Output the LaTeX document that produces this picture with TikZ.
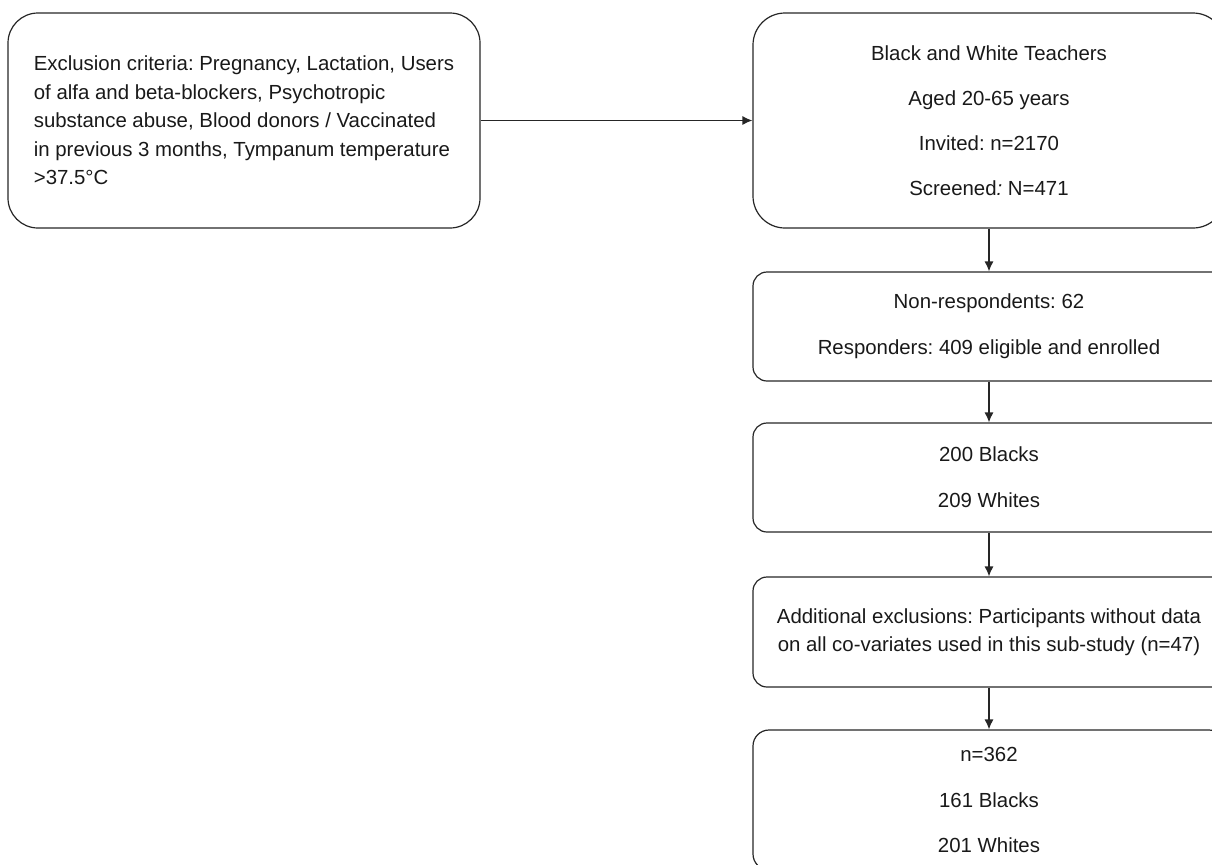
\documentclass[tikz,border=0pt]{standalone}
\usepackage{fontspec}
\setmainfont{Liberation Sans}
\usetikzlibrary{arrows.meta}
\frenchspacing

\tikzset{
	box/.style={draw=black!85,line width=0.6pt,minimum width=236pt,inner sep=0pt,text=black!90},
	flow/.style={line width=0.6pt,draw=black!85,-{Latex[length=5pt,width=4.5pt]}}
}

\begin{document}
\begin{tikzpicture}[x=0.5pt,y=-0.5pt]
		%Рамка
		\useasboundingbox (0,0) rectangle (1212,864);
		\clip (0,0) rectangle (1212,864);
		
		%Левый блок
		\node[box,rounded corners=15pt,minimum height=107.5pt,align=left,font=\fontsize{10.2}{14.25}\selectfont] (excl) at (244,120.5)
		{Exclusion criteria: Pregnancy, Lactation, Users\\of alfa and beta-blockers, Psychotropic\\substance abuse, Blood donors / Vaccinated\\in previous 3 months, Tympanum temperature\\>37.5°C};
		
		%Правая колонка
		\node[box,rounded corners=16pt,minimum height=107.5pt,align=center,font=\fontsize{10.2}{22.5}\selectfont] (teach) at (989,120.5)
		{Black and White Teachers\\Aged 20-65 years\\Invited: n=2170\\Screened\textit{:} N=471};
		\node[box,rounded corners=7pt,minimum height=54.5pt,align=center,font=\fontsize{10.2}{23}\selectfont] (resp) at (989,326.5)
		{Non-respondents: 62\\Responders: 409 eligible and enrolled};
		\node[box,rounded corners=7pt,minimum height=54.5pt,align=center,font=\fontsize{10.2}{23}\selectfont] (race) at (989,477.5)
		{200 Blacks\\209 Whites};
		\node[box,rounded corners=7pt,minimum height=55pt,align=center,font=\fontsize{10.2}{14}\selectfont] (addx) at (989,632)
		{Additional exclusions: Participants without data\\on all co-variates used in this sub-study (n=47)};
		\node[box,rounded corners=8pt,minimum height=70pt,align=center,font=\fontsize{10.2}{22.75}\selectfont] (final) at (989,800)
		{n=362\\161 Blacks\\201 Whites};
		
		%Стрелки
		\draw[flow] (excl.east)--(teach.west);
		\draw[flow] (teach.south)--(resp.north);
		\draw[flow] (resp.south)--(race.north);
		\draw[flow] (race.south)--(addx.north);
		\draw[flow] (addx.south)--(final.north);
	\end{tikzpicture}
\end{document}
